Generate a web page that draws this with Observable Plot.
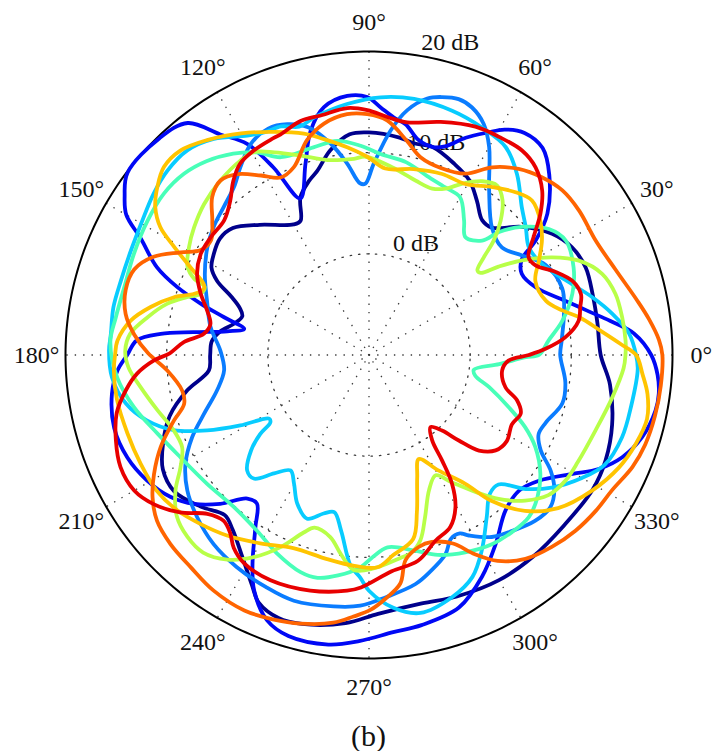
<!DOCTYPE html>
<html>
<head>
<meta charset="utf-8">
<script src="https://cdn.jsdelivr.net/npm/d3@7"></script>
<script src="https://cdn.jsdelivr.net/npm/@observablehq/plot@0.6"></script>
<style>
  html, body { margin: 0; padding: 0; background: #fff; }
  #chart svg { display: block; }
  #cap { position: absolute; left: 0; top: 706px; width: 737px; text-align: center;
         font-family: "Liberation Serif", serif; font-size: 30px;
         line-height: 44px; padding-top: 8px; color: #111; }
</style>
</head>
<body>
<div id="chart"></div>
<div id="cap">(b)</div>
<script>
// ---- axis / tick values ----
const angleTicks = [0, 30, 60, 90, 120, 150, 180, 210, 240, 270, 300, 330];
const spokeAngles = [0, 30, 60, 90, 120, 150];
const ringTicks = [0, 10, 20];   // dB
const dbMin = -10;                // dB at the centre
const dbMax = 20;                 // dB at the outer circle
const ringLabelAngle = 82;

// ---- series: [angle (deg), level (dB)] ----
const navy = [[0,12.9],[8,12.8],[15,12.9],[22,13.1],[28,12.7],[33.5,11.7],[40,9.7],[46,7.5],[50,7.4],[55,8.6],[60,9.9],[66,10.7],[73,11.5],[78,11.4],[82,11.7],[90,12.0],[95,11.9],[100.7,10.6],[105.7,8.9],[109,8.2],[113.5,7.0],[117,4.9],[120,4.9],[130,6.8],[137,8.4],[142,8.7],[147,8.3],[151,7.8],[154,6.7],[157,4.8],[160,3.6],[163,3.1],[167,3.7],[171,4.9],[175,5.6],[180,5.7],[185.5,5.9],[191,8.3],[197,10.6],[203,12.1],[209,13.3],[215,13.5],[222,12.4],[228,11.3],[232,11.9],[238,13.6],[243,15.5],[246,16.8],[251,17.5],[256,17.4],[265,16.6],[272,15.6],[282,15.1],[290,15.4],[300,15.7],[309,15.7],[319,15.6],[329,15.8],[336,15.6],[344,15.0],[353,14.0]];

const blue = [[0,17.9],[4.6,16.3],[8,14.1],[11.5,12.0],[15.5,10.1],[22,7.8],[28,7.1],[32,7.8],[34.5,10.0],[38.4,12.5],[45,15.2],[50,16.7],[55,16.8],[59,16.0],[62,14.9],[66,13.5],[70,11.95],[73,11.5],[77,11.8],[81,13.1],[84,13.6],[87.3,14.5],[90.4,15.5],[94.8,15.7],[100.3,14.9],[104.6,12.9],[108.4,9.9],[113.7,6.9],[117,10.8],[120,14.1],[124,16.3],[128,19.1],[134,19.8],[143,19.9],[147,18.8],[150,17.7],[153,15.3],[157.5,12.7],[160.5,10.1],[163,7.4],[165.4,4.8],[168.2,2.6],[170.5,4.2],[172.6,7.5],[174.2,10.7],[176.4,13.0],[180,13.9],[183.5,14.9],[188.6,15.7],[196,16.2],[203,15.95],[209.5,15.2],[215.6,14.1],[220.4,12.7],[225,10.8],[229.7,8.6],[233,8.4],[236.6,10.4],[240.8,13.6],[244,15.9],[249,18.1],[254,18.9],[262,18.9],[268,18.3],[275,17.5],[281,17.2],[289.6,16.5],[297,14.6],[303.8,12.5],[311.3,10.45],[318,10.0],[323.5,10.9],[329.7,13.3],[333.6,15.35],[338,17.0],[343.3,18.2],[349,18.85],[352.4,18.9],[356,18.6]];

const midBlue = [[0,8.9],[4.3,9.1],[12,9.7],[19,10.2],[27,9.6],[33,8.05],[39,6.9],[46,7.5],[54,10.2],[60,13.75],[63.6,15.5],[67.4,16.5],[70.7,16.8],[74.2,16.5],[77.2,16.0],[81.1,14.5],[84.5,12.3],[88.6,8.9],[91.2,6.95],[93,7.0],[96.5,9.05],[100.3,11.25],[105,13.3],[109.5,14.2],[114,14.5],[119.3,13.9],[124.4,12.5],[128.8,11.3],[134.5,10.5],[140.5,9.9],[146.3,9.2],[153.7,8.1],[161.4,6.9],[170,5.9],[178.3,4.7],[186,4.4],[193,5.4],[199.6,7.3],[205,9.3],[210.7,11.1],[216.7,12.4],[223.3,13.35],[230.6,14.2],[238,14.7],[246,15.1],[253,15.4],[262,15.1],[268,14.8],[274,14.0],[281.5,13.1],[286,12.2],[291,11.1],[294,9.9],[297,9.8],[299,10.4],[304,11.7],[309,12.4],[315,13.2],[320,13.4],[324,12.65],[327.5,11.3],[331,9.4],[335,8.5],[339,8.7],[346,9.7],[352,9.6]];

const cyan = [[0,16.4],[4.7,15.8],[9.6,14.4],[14.5,12.8],[20.8,10.8],[27.8,9.3],[34,9.06],[39.2,10.0],[44,11.0],[50.7,13.1],[56.7,14.6],[63.6,15.1],[71.2,15.5],[80,15.7],[87.4,15.5],[95,14.9],[103,14.1],[107,13.6],[111,14.2],[115,14.3],[119,14.8],[125.7,16.3],[131.6,17.05],[137.6,17.0],[143.2,16.6],[150,16.0],[156.3,15.7],[163.3,15.6],[169.4,15.7],[175.3,15.6],[179,15.7],[185,15.5],[191.3,14.5],[196.4,12.9],[201,10.7],[205,7.65],[208.7,4.5],[212.5,1.7],[214.3,1.8],[216,3.3],[219,5.0],[223.5,6.6],[227,6.7],[231.3,5.0],[235.8,3.8],[239.7,4.7],[244.2,6.3],[249.3,7.3],[254,6.3],[257.5,5.9],[261,7.6],[265,10.9],[267.7,12.0],[270,13.3],[275.5,15.1],[281.3,16.0],[289,15.3],[295,14.2],[300,12.3],[306,9.8],[311,8.2],[315,8.1],[319.5,10.4],[324,12.3],[330,14.3],[335,15.7],[342,16.3],[349,16.4],[357,16.6]];

const aqua = [[0,6.8],[4.6,7.8],[10,9.4],[16.8,11.0],[23.2,12.0],[30.2,12.5],[35,11.7],[40,9.7],[43.4,7.7],[45.3,5.9],[50.7,5.05],[54.8,6.3],[60,8.0],[65.5,8.2],[72,8.6],[79,9.4],[86.7,9.9],[92.3,10.7],[98.4,11.4],[105,11.25],[114,11.4],[119,12.9],[124,14.0],[130,15.0],[135.6,15.6],[141.8,15.8],[148.8,15.6],[156.7,15.3],[164.5,15.1],[171.5,15.3],[177,15.6],[185,15.0],[192.5,13.8],[200.4,12.3],[208.5,11.2],[218.5,10.45],[228.4,10.1],[237.5,10.6],[245,11.6],[252.5,12.5],[257,12.6],[262,12.0],[267.7,11.0],[271,10.0],[275.5,9.1],[282.8,9.8],[289,10.9],[296,11.7],[303,12.3],[309,12.5],[314.6,12.5],[319.8,11.8],[325.3,10.6],[331,8.8],[335.2,7.0],[339.5,4.75],[345,2.3],[349,0.7],[352,0.46],[356,2.9],[359.2,5.5]];

const yellowGreen = [[0,15.35],[3.2,15.4],[8.5,15.3],[13.9,15.1],[19.2,14.4],[24.2,12.75],[28.1,10.5],[31.7,7.8],[34.3,5.5],[36.3,3.7],[38,3.6],[40.4,4.9],[42.5,6.7],[45.6,8.6],[49.2,10.2],[52.9,11.0],[56.9,10.5],[61.4,9.3],[65.3,8.1],[69.2,7.6],[75.1,7.85],[83,8.7],[91,9.6],[94.4,9.45],[102,9.7],[109,10.85],[115,12.1],[119.6,13.06],[123.5,13.04],[130.4,12.65],[137.5,12.1],[143.9,11.4],[149,10.75],[154,9.96],[156.5,8.8],[157.4,7.6],[160,7.7],[162.4,8.9],[165.8,10.6],[170.3,12.2],[174.9,13.7],[179,14.1],[183,13.8],[188,12.8],[194.7,11.6],[201,10.7],[206.3,10.6],[210.8,11.7],[215,13.35],[220,14.8],[225,15.4],[230,15.5],[235.3,14.6],[240.3,13.0],[245.3,10.9],[249.8,8.7],[252.5,7.9],[258,8.4],[262,9.9],[266,11.3],[271.2,11.1],[278.8,10.3],[282,10.0],[285.5,9.0],[289,7.0],[294,4.6],[299,3.6],[303,5.0],[308,7.2],[312,9.15],[317,11.1],[322,12.5],[327.4,13.05],[333,13.2],[341.6,13.6],[350,14.4],[357,15.2]];

const gold = [[0,16.4],[2.5,14.9],[6,13.0],[10,11.2],[13,9.6],[17,8.3],[24,8.0],[29,9.2],[33.5,10.5],[38,11.5],[43.4,12.2],[48,11.65],[53.7,10.6],[60.6,9.4],[68,9.3],[76.5,8.9],[85,8.5],[90.5,9.6],[96,10.65],[101.8,11.8],[106.4,12.8],[113,13.95],[120,15.3],[127,16.6],[132.7,17.5],[137.5,17.5],[141.6,16.7],[145.3,15.7],[148.5,14.2],[151,12.0],[153.8,9.7],[156.7,7.8],[158.2,7.6],[160.7,8.3],[163.5,10.1],[167.6,12.1],[171.8,13.8],[176.7,14.9],[180,15.1],[183.5,15.27],[190,15.3],[198,15.1],[205.5,15.0],[212.6,14.9],[219,14.4],[225,13.6],[231.8,12.7],[240,11.5],[248.6,10.5],[258.4,10.6],[266,10.9],[272.3,11.0],[277,9.9],[283.5,8.7],[287,6.2],[291.5,3.0],[295.6,1.4],[301,3.3],[306.8,5.9],[310,8.8],[315,11.8],[321,14.05],[328.7,15.8],[335.8,17.1],[341.6,17.8],[347,18.2],[352,17.8],[356,17.1]];

const orange = [[0,19.0],[3,18.7],[7.3,17.9],[11.5,17.05],[19,15.8],[26.8,15.1],[34.5,15.2],[40.4,15.1],[45.8,14.5],[51.2,13.6],[56.7,12.2],[62,10.3],[69,9.8],[75.4,10.2],[80,11.5],[85.6,13.25],[90.4,13.8],[95.2,13.9],[101,13.3],[106.1,12.1],[111.8,10.0],[116.5,9.6],[121,10.7],[126,12.1],[130.4,12.65],[134.8,12.0],[139.4,10.4],[144,9.3],[148,9.6],[151.4,11.2],[155.5,13.4],[160,14.7],[165,14.9],[170.4,14.4],[175,13.3],[179.5,11.85],[184.4,10.0],[190.8,8.8],[194.8,8.9],[198.6,10.35],[203.8,12.5],[209,14.3],[213.3,15.6],[218,16.6],[223.6,17.1],[230,17.4],[236.6,17.9],[244,18.1],[250,17.8],[255.7,17.4],[262.4,16.7],[266.6,15.9],[270.3,15.2],[274,14.1],[277.8,12.8],[280.1,10.6],[284.5,9.6],[288.6,9.5],[294,10.4],[298,12.3],[302,14.0],[307.5,15.4],[313.6,16.2],[319.6,16.8],[325.5,17.2],[331,17.5],[337,18.3],[342,18.7],[348,18.9],[354,19.0]];

const red = [[0,5.8],[2,7.46],[5.2,9.5],[9.3,11.0],[12.7,11.4],[16,11.8],[20,11.4],[24,10.2],[28.3,8.7],[31.5,8.5],[35.6,10.0],[39.5,11.96],[43.5,13.6],[48.4,14.8],[53.2,15.25],[59.2,15.1],[65,14.9],[72.9,14.1],[80.7,13.3],[85.6,13.6],[90.4,14.2],[95,14.5],[101.4,14.15],[106.3,14.1],[111.8,13.5],[114.5,13.4],[119.4,13.2],[124,12.8],[128,11.8],[132,10.5],[137,9.56],[143.4,9.5],[149,9.4],[154.7,8.8],[160,7.7],[164.6,6.6],[169,5.97],[172.7,6.46],[176,8.35],[179.5,9.7],[181.5,11.3],[184.6,13.0],[188.3,14.3],[193,15.6],[198.6,16.4],[204.3,16.95],[210,16.8],[214.7,15.9],[219.8,14.3],[224.5,12.4],[228.7,11.8],[232,12.3],[235,13.3],[239,14.0],[246.4,14.3],[256,14.0],[264.7,13.4],[268,13.0],[276,11.5],[283.4,10.9],[289.7,9.5],[295.3,8.8],[299.6,7.3],[302.8,5.16],[304.7,2.7],[306.5,0.5],[310.4,-0.63],[314,0.39],[316.4,2.26],[319,4.4],[323,5.67],[328,6.06],[334,5.7],[339,6.07],[343,5.3],[346.7,3.86],[353.4,3.25],[357.7,3.8]];

const seriesData   = [navy, blue, midBlue, cyan, aqua, yellowGreen, gold, orange, red];
const seriesColors = ["#00008c", "#0008f5", "#0a7cff", "#08ccff", "#48ffb8", "#b8ff48", "#ffc400", "#ff6400", "#e80000"];

// ---- polar -> cartesian helpers (radius in dB above the centre value) ----
const rad = d => d * Math.PI / 180;
const R = dbMax - dbMin;
const px = (a, db) => (db - dbMin) * Math.cos(rad(a));
const py = (a, db) => (db - dbMin) * Math.sin(rad(a));

const circlePts = db => d3.range(0, 361, 1).map(a => ({x: px(a, db), y: py(a, db)}));

const font = "Liberation Serif";
const dotted = {stroke: "#3a3a3a", strokeWidth: 1.3, strokeDasharray: "1.4,7"};

const marks = [];
// dotted rings (except outer)
for (const v of ringTicks.filter(v => v < dbMax)) {
  marks.push(Plot.line(circlePts(v), {x: "x", y: "y", ...dotted}));
}
// dotted spokes (full diameters)
marks.push(Plot.link(spokeAngles, {
  x1: a => px(a, dbMax), y1: a => py(a, dbMax),
  x2: a => px(a + 180, dbMax), y2: a => py(a + 180, dbMax),
  ...dotted
}));
// outer circle
marks.push(Plot.line(circlePts(dbMax), {x: "x", y: "y", stroke: "#000", strokeWidth: 2}));
// angle labels
marks.push(Plot.text(angleTicks, {
  x: a => 1.095 * R * Math.cos(rad(a)), y: a => 1.095 * R * Math.sin(rad(a)),
  text: a => `${a}°`, fontSize: 24, fontFamily: font, fill: "#111"
}));
// ring labels
marks.push(Plot.text(ringTicks, {
  x: v => px(ringLabelAngle, v), y: v => py(ringLabelAngle, v),
  text: v => `${v} dB`, textAnchor: "start", dx: 10, dy: -12,
  fontSize: 24, fontFamily: font, fill: "#111"
}));
// curves
seriesData.forEach((s, i) => {
  const rows = s.map(([a, db]) => ({x: px(a, db), y: py(a, db)}));
  marks.push(Plot.line(rows, {
    x: "x", y: "y", curve: "catmull-rom-closed",
    stroke: seriesColors[i], strokeWidth: 3.8, strokeLinejoin: "round"
  }));
});

const chart = Plot.plot({
  width: 712,
  height: 706,
  marginLeft: 65,
  marginRight: 40,
  marginTop: 51,
  marginBottom: 48,
  x: {domain: [-R, R], axis: null},
  y: {domain: [-R, R], axis: null},
  style: {background: "#fff", overflow: "visible"},
  marks
});
document.getElementById("chart").append(chart);
</script>
</body>
</html>
